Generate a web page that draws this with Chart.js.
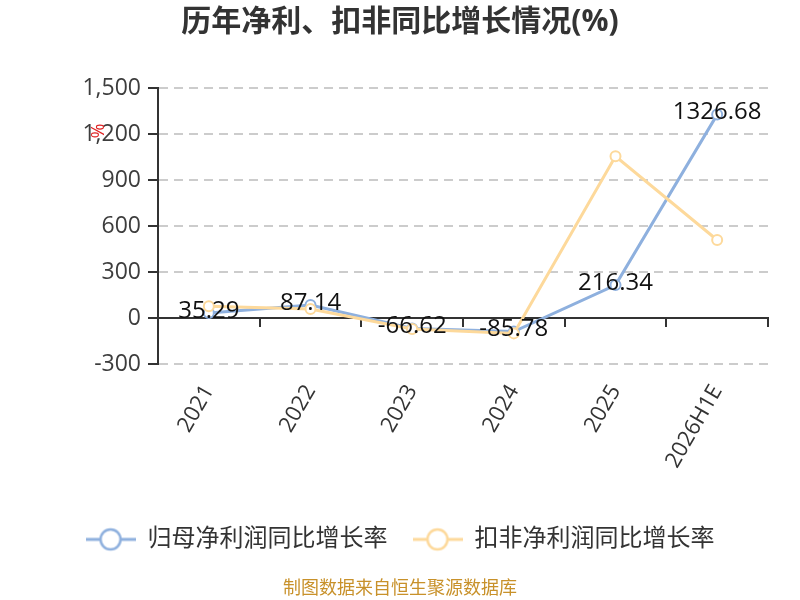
<!DOCTYPE html>
<html>
<head>
<meta charset="utf-8">
<script src="https://cdn.jsdelivr.net/npm/chart.js@4/dist/chart.umd.min.js"></script>
<style>
  html,body{margin:0;padding:0;background:#fff;}
  #wrap{width:800px;height:600px;}
</style>
</head>
<body>
<div id="wrap"><canvas id="c" width="800" height="600"></canvas></div>
<script>
const years = ['2021','2022','2023','2024','2025','2026H1E'];
const netProfitGrowth = [35.29, 87.14, -66.62, -85.78, 216.34, 1326.68];
const deductedGrowth = [78, 60, -70, -98, 1055, 510];
const seriesNames = ['归母净利润同比增长率','扣非净利润同比增长率'];
const yTicks = {min:-300, max:1500, step:300};

const BLUE='#8eb0de', ORANGE='#fdd99b';
const FONT='"Open Sans","Noto Sans CJK SC",sans-serif';

function legendIcon(color){
  const cv=document.createElement('canvas'); cv.width=50; cv.height=26;
  const g=cv.getContext('2d');
  g.strokeStyle=color; g.lineWidth=3;
  g.beginPath(); g.moveTo(0,13); g.lineTo(50,13); g.stroke();
  g.fillStyle='#fff'; g.lineWidth=2.5;
  g.beginPath(); g.arc(25,13,10,0,Math.PI*2); g.fill(); g.stroke();
  return cv;
}
const icons=[legendIcon(BLUE), legendIcon(ORANGE)];

// value labels for the first series + the small red % mark
const labelPlugin={
  id:'valLabels',
  afterDatasetsDraw(chart){
    const ctx=chart.ctx;
    const meta=chart.getDatasetMeta(0);
    ctx.save();
    ctx.font='24px '+FONT; ctx.fillStyle='#111';
    ctx.textAlign='center'; ctx.textBaseline='middle';
    meta.data.forEach((pt,i)=>{
      ctx.fillText(netProfitGrowth[i].toFixed(2), pt.x, pt.y-2);
    });
    ctx.translate(96,131); ctx.rotate(Math.PI/2);
    ctx.font='18px '+FONT; ctx.fillStyle='#e02020';
    ctx.fillText('%', 0, 0);
    ctx.restore();
  }
};

new Chart(document.getElementById('c'),{
  type:'line',
  data:{
    labels:years,
    datasets:[
      {label:seriesNames[0], data:netProfitGrowth, borderColor:BLUE, backgroundColor:BLUE,
       borderWidth:3, pointRadius:5, pointBackgroundColor:'#fff', pointBorderColor:BLUE, pointBorderWidth:2, order:1},
      {label:seriesNames[1], data:deductedGrowth, borderColor:ORANGE, backgroundColor:ORANGE,
       borderWidth:3, pointRadius:5, pointBackgroundColor:'#fff', pointBorderColor:ORANGE, pointBorderWidth:2, order:0}
    ]
  },
  options:{
    responsive:false, animation:false,
    layout:{padding:0},
    plugins:{
      title:{display:true, text:'历年净利、扣非同比增长情况(%)', color:'#333',
        font:{family:FONT, size:30, weight:'bold'}, padding:{top:4,bottom:48}},
      subtitle:{display:true, position:'bottom', text:'制图数据来自恒生聚源数据库', color:'#c8912a',
        font:{family:FONT, size:18}, padding:{top:17,bottom:0}},
      legend:{position:'bottom',
        labels:{usePointStyle:true, pointStyleWidth:50, padding:25, color:'#333',
          font:{family:FONT, size:24},
          sort:(a,b)=>a.datasetIndex-b.datasetIndex,
          generateLabels(chart){
            const items=Chart.defaults.plugins.legend.labels.generateLabels(chart);
            items.forEach(it=>{ it.pointStyle=icons[it.datasetIndex]; });
            return items;
          }}},
      tooltip:{enabled:false}
    },
    scales:{
      x:{position:'bottom', offset:true, grid:{display:false}, border:{display:false},
        ticks:{color:'#333', font:{family:FONT,size:22}, maxRotation:60, minRotation:60, padding:8, autoSkip:false},
        afterFit(s){ s.height=138; }},
      x0:{type:'category', position:{y:0}, offset:true,
        grid:{drawOnChartArea:false, offset:true, tickLength:8, color:'#333', lineWidth:2},
        border:{color:'#333', width:2}, ticks:{display:false}},
      y:{min:yTicks.min, max:yTicks.max,
        ticks:{stepSize:yTicks.step, color:'#3d3d3d', font:{family:FONT,size:23}, padding:7},
        grid:{color:'#ccc', lineWidth:2, tickColor:'#333', tickLength:10, tickBorderDash:[]},
        border:{color:'#333', width:2, dash:[9,6]},
        afterFit(s){ s.width=158; }},
      yR:{position:'right', min:0, max:1, grid:{display:false}, border:{display:false},
        ticks:{display:false}, afterFit(s){ s.width=32; }}
    }
  },
  plugins:[labelPlugin]
});
</script>
</body>
</html>
